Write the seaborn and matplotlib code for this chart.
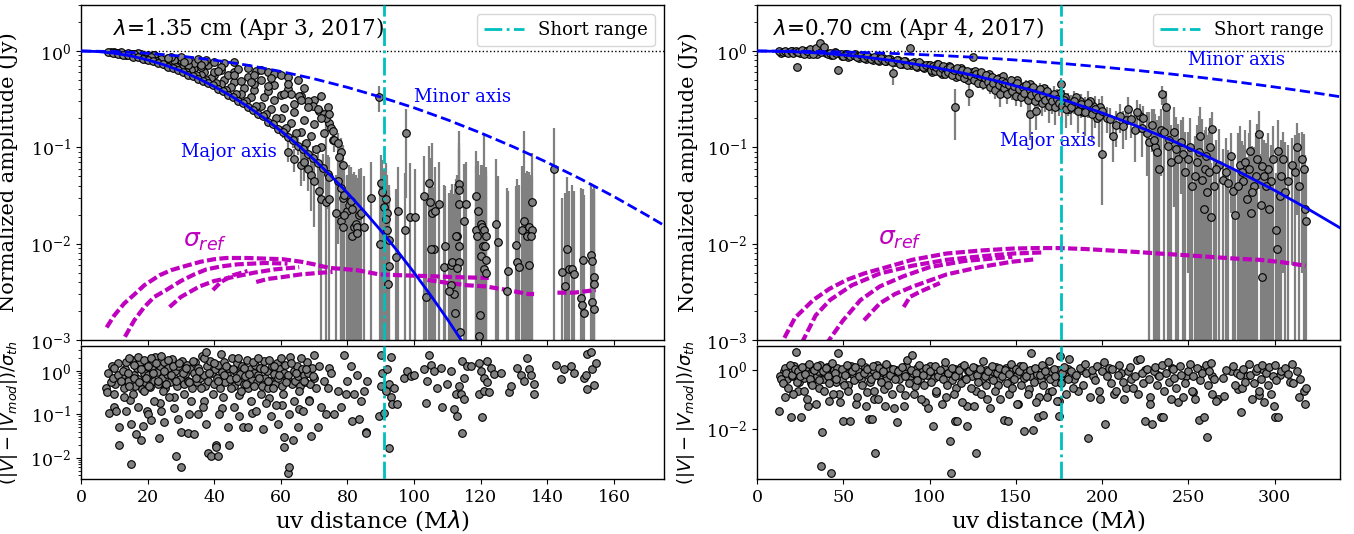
import numpy as np
import matplotlib
matplotlib.use("Agg")
import matplotlib.pyplot as plt
import seaborn as sns

# ============================================================================
# DATA
# ============================================================================
# --- lambda = 1.35 cm, amplitude vs uv distance, low-uv tracks ---
left_uv_t1 = [8, 9.5, 11, 12.5, 14, 15.5, 17, 18.5, 20, 21.5,
              23, 24.5, 26, 27.5, 29, 30.5, 32, 33.5, 35, 36.5,
              38, 39.5, 41, 42.5, 44, 45.5, 47, 48.5, 50, 51.5,
              53, 54.5, 56, 57.5, 59, 60.5, 62, 63.5, 65, 66.5,
              68, 69.5, 71, 72.5, 74, 62, 64, 66, 67, 68,
              69, 70, 71.5, 72, 73.5]
left_amp_t1 = [0.97, 0.95, 0.94, 0.91, 0.9, 0.87, 0.86, 0.83, 0.8, 0.79,
               0.75, 0.73, 0.69, 0.67, 0.63, 0.61, 0.57, 0.55, 0.51, 0.49,
               0.46, 0.44, 0.4, 0.385, 0.35, 0.335, 0.3, 0.29, 0.26, 0.245,
               0.22, 0.21, 0.185, 0.175, 0.155, 0.145, 0.128, 0.118, 0.104, 0.096,
               0.085, 0.078, 0.068, 0.061, 0.053, 0.09, 0.075, 0.065, 0.07, 0.06,
               0.052, 0.045, 0.035, 0.029, 0.027]
left_err_t1 = [0.01, 0.01, 0.01, 0.01, 0.01, 0.01, 0.01, 0.01, 0.01, 0.01,
               0.01, 0.01, 0.01, 0.01, 0.01, 0.01, 0.01, 0.01, 0.01, 0.01,
               0.01, 0.012, 0.012, 0.012, 0.012, 0.012, 0.012, 0.012, 0.015, 0.015,
               0.015, 0.015, 0.015, 0.015, 0.015, 0.02, 0.02, 0.02, 0.02, 0.02,
               0.02, 0.025, 0.025, 0.025, 0.03, 0.02, 0.02, 0.025, 0.025, 0.025,
               0.03, 0.03, 0.03, 0.03, 0.17]
left_uv_t2 = [10, 13, 16, 19, 22, 25, 28, 31, 34, 37, 40, 43, 46, 49, 52, 55, 58, 61, 64, 67, 70, 73]
left_amp_t2 = [0.97, 0.94, 0.92, 0.87, 0.85, 0.79, 0.76, 0.7, 0.67, 0.6, 0.57, 0.5, 0.48, 0.41,
               0.39, 0.33, 0.31, 0.255, 0.235, 0.19, 0.175, 0.14]
left_uv_t3 = [14, 18, 22, 26, 30, 34, 38, 42, 46, 50, 54, 58, 62, 66, 70, 74]
left_amp_t3 = [0.96, 0.92, 0.9, 0.84, 0.81, 0.75, 0.72, 0.64, 0.61, 0.54, 0.5, 0.44, 0.4, 0.34, 0.31, 0.26]
left_uv_t4 = [30, 35, 37.6, 40, 43, 46, 50, 52.5, 54, 56, 58, 60, 62, 65, 63, 65.5, 68, 69.5,
              71.5, 73, 74.5, 75.5, 75, 73.5]
left_amp_t4 = [0.87, 0.83, 0.81, 0.77, 0.75, 0.77, 0.67, 0.62, 0.63, 0.6, 0.58, 0.56, 0.54, 0.5,
               0.36, 0.34, 0.3, 0.27, 0.24, 0.22, 0.18, 0.12, 0.16, 0.2]
left_uv_t5 = [9, 12, 15, 18, 21, 24, 27, 30, 33, 36, 39, 42, 45, 48, 51, 54, 57, 60, 63, 66, 69, 72]
left_amp_t5 = [0.98, 0.93, 0.92, 0.86, 0.83, 0.77, 0.74, 0.66, 0.63, 0.56, 0.52, 0.45, 0.42, 0.36,
               0.33, 0.27, 0.25, 0.2, 0.18, 0.145, 0.13, 0.1]
left_uv_t6 = [11, 15, 20, 24, 28, 32, 36, 40, 44, 48, 52, 56, 60, 64, 68, 72]
left_amp_t6 = [0.95, 0.94, 0.9, 0.83, 0.8, 0.72, 0.69, 0.61, 0.57, 0.49, 0.45, 0.38, 0.35, 0.28, 0.26, 0.2]
left_uv_t7 = [12, 17, 22, 27, 32, 37, 42, 47, 52, 57, 62, 67, 72]
left_amp_t7 = [0.97, 0.95, 0.9, 0.87, 0.8, 0.77, 0.69, 0.65, 0.57, 0.53, 0.45, 0.41, 0.34]
left_uv_t8 = [10.5, 13.5, 16.5, 19.5, 22.5, 25.5, 28.5, 31.5, 34.5, 37.5, 40.5, 43.5, 46.5, 49.5,
              52.5, 55.5, 58.5, 61.5, 64.5, 67.5, 70.5]
left_amp_t8 = [0.95, 0.91, 0.89, 0.82, 0.79, 0.72, 0.69, 0.61, 0.57, 0.5, 0.46, 0.39, 0.36, 0.3,
               0.27, 0.22, 0.2, 0.16, 0.14, 0.11, 0.095]
left_uv_t9 = [16, 21, 26, 31, 36, 41, 46, 51, 56, 61, 66, 71]
left_amp_t9 = [0.94, 0.87, 0.84, 0.76, 0.71, 0.62, 0.57, 0.48, 0.43, 0.36, 0.31, 0.25]

# --- lambda = 1.35 cm, long baselines (noisy) ---
left_uv_far = [74.5, 75.5, 76, 77, 78, 77.5, 78.5, 74.5, 77, 78,
               78.5, 79, 80, 80.5, 81, 81.5, 78, 78.5, 79, 82,
               82.5, 83, 83.5, 84, 85, 81.5, 83, 87, 74.5, 76.5,
               89.5, 97.6, 90, 90.5, 91, 91.5, 92, 91.5, 92, 92.5,
               92.5, 92.3, 89.8, 94.5, 95.2, 97.3, 98.8, 100.3, 103, 104.4,
               104.9, 105.5, 106.4, 106, 105, 103.5, 107.4, 109.4, 108.9, 111,
               111.5, 111, 112, 110.5, 112.4, 113.4, 113.4, 113.6, 113, 112.5,
               113.4, 113.4, 112.8, 113.9, 115, 115.6, 118.6, 119.2, 118.7, 119,
               120, 120.5, 121, 121.5, 120.6, 121.2, 120, 121.5, 121, 121.5,
               119.7, 119.5, 124.5, 125.3, 128.3, 127.8, 130.6, 131, 131.5, 133,
               133.5, 134, 134.5, 132.5, 134.5, 135.3, 135, 135.3, 142, 144.5,
               145.3, 145.8, 146.5, 147.5, 148, 150.6, 151, 150, 150.3, 153,
               153.5, 154, 154, 153.5, 154]
left_amp_far = [0.22, 0.148, 0.12, 0.11, 0.09, 0.08, 0.066, 0.049, 0.045, 0.038,
                0.03, 0.032, 0.022, 0.025, 0.028, 0.023, 0.017, 0.015, 0.02, 0.015,
                0.016, 0.015, 0.02, 0.021, 0.015, 0.012, 0.013, 0.03, 0.029, 0.021,
                0.33, 0.14, 0.043, 0.034, 0.024, 0.029, 0.021, 0.018, 0.014, 0.011,
                0.0058, 0.0038, 0.0099, 0.0072, 0.022, 0.014, 0.019, 0.019, 0.031, 0.043,
                0.027, 0.021, 0.022, 0.0089, 0.0087, 0.0028, 0.026, 0.0094, 0.0057, 0.006,
                0.0065, 0.0037, 0.003, 0.0032, 0.0019, 0.042, 0.036, 0.026, 0.012, 0.012,
                0.0094, 0.0065, 0.0056, 0.0012, 0.017, 0.026, 0.031, 0.022, 0.014, 0.012,
                0.016, 0.015, 0.014, 0.012, 0.0095, 0.0095, 0.0075, 0.0068, 0.0055, 0.005,
                0.0018, 0.0011, 0.016, 0.0105, 0.0052, 0.0032, 0.0098, 0.0065, 0.0057, 0.017,
                0.014, 0.012, 0.006, 0.014, 0.015, 0.014, 0.012, 0.027, 0.06, 0.0051,
                0.0036, 0.0087, 0.0055, 0.0055, 0.0048, 0.0068, 0.0019, 0.0027, 0.0023, 0.0076,
                0.0066, 0.0045, 0.0038, 0.0025, 0.0021]
left_err_far = [0.03, 0.03, 0.03, 0.03, 0.035, 0.04, 0.04, 0.03, 0.035, 0.04,
                0.04, 0.035, 0.03, 0.04, 0.035, 0.03, 0.03, 0.035, 0.03, 0.04,
                0.035, 0.03, 0.04, 0.04, 0.035, 0.03, 0.035, 0.04, 0.03, 0.03,
                0.1, 0.11, 0.04, 0.04, 0.035, 0.04, 0.03, 0.035, 0.03, 0.03,
                0.03, 0.02, 0.03, 0.03, 0.04, 0.04, 0.05, 0.04, 0.05, 0.06,
                0.05, 0.09, 0.04, 0.03, 0.035, 0.03, 0.045, 0.03, 0.035, 0.03,
                0.035, 0.03, 0.03, 0.03, 0.04, 0.07, 0.06, 0.12, 0.04, 0.035,
                0.03, 0.04, 0.03, 0.03, 0.05, 0.045, 0.06, 0.05, 0.05, 0.04,
                0.05, 0.05, 0.12, 0.05, 0.04, 0.045, 0.04, 0.05, 0.04, 0.045,
                0.05, 0.04, 0.06, 0.04, 0.03, 0.035, 0.03, 0.04, 0.035, 0.13,
                0.04, 0.045, 0.04, 0.05, 0.04, 0.035, 0.04, 0.06, 0.1, 0.025,
                0.03, 0.04, 0.03, 0.035, 0.03, 0.03, 0.03, 0.035, 0.03, 0.035,
                0.03, 0.035, 0.03, 0.03, 0.035]

# --- lambda = 1.35 cm, Gaussian model along major / minor axis ---
left_model_uv = [0, 5, 10, 15, 20, 25, 30, 35, 40, 45, 50, 55, 60, 65, 70, 75, 80, 85, 90,
                 95, 100, 105, 110, 115]
left_major = [1.0, 0.987, 0.948, 0.888, 0.809, 0.718, 0.621, 0.522, 0.428, 0.342, 0.266, 0.201,
              0.148, 0.1066, 0.0744, 0.0507, 0.0336, 0.0217, 0.0137, 0.00837, 0.005, 0.0029,
              0.00164, 0.0009]
left_minor_uv = [0, 10, 20, 30, 40, 50, 60, 70, 80, 90, 100, 110, 120, 130, 140, 150, 160, 170, 175]
left_minor = [1.0, 0.9865, 0.947, 0.885, 0.804, 0.712, 0.613, 0.514, 0.419, 0.332, 0.257, 0.193,
              0.141, 0.1004, 0.0696, 0.0469, 0.0308, 0.0196, 0.0155]

# --- lambda = 1.35 cm, sigma_ref tracks ---
left_sig_uv = [
    [7.7, 10, 13, 15.7, 19, 23.6, 27, 31.6, 36, 40, 43.6, 50, 55, 60.5, 66, 70, 74.5,
     77.5, 83, 89.5, 96, 104.4, 112, 122.4],
    [104, 110.4, 116, 121.4, 128, 134.3, 136],
    [143, 148, 154.5],
    [13.2, 16, 19, 22, 25.6, 30, 34, 37.6, 42, 47, 55.5, 62],
    [26.6, 30, 35.6, 40, 45.6, 52, 58, 65.5],
    [39.6, 42, 45.6, 50],
    [52.6, 56, 60.5, 66, 75.5],
]
left_sig_amp = [
    [1.35e-3, 1.8e-3, 2.4e-3, 2.9e-3, 3.7e-3, 4.7e-3, 5.3e-3, 5.9e-3, 6.5e-3, 6.9e-3, 7.1e-3,
     7.1e-3, 7.0e-3, 6.9e-3, 6.5e-3, 6.1e-3, 5.6e-3, 5.5e-3, 5.3e-3, 4.8e-3, 4.7e-3, 4.6e-3,
     4.5e-3, 4.4e-3],
    [4.2e-3, 3.9e-3, 3.7e-3, 3.6e-3, 3.3e-3, 3.0e-3, 3.0e-3],
    [3.1e-3, 3.1e-3, 3.3e-3],
    [1.08e-3, 1.6e-3, 2.2e-3, 2.8e-3, 3.3e-3, 4.1e-3, 4.8e-3, 5.4e-3, 5.8e-3, 6.1e-3, 6.3e-3, 6.2e-3],
    [2.2e-3, 2.8e-3, 3.6e-3, 4.1e-3, 4.5e-3, 5.0e-3, 5.4e-3, 5.7e-3],
    [3.3e-3, 4.0e-3, 4.7e-3, 5.2e-3],
    [4.0e-3, 4.3e-3, 4.5e-3, 4.8e-3, 5.1e-3],
]

# --- lambda = 1.35 cm, residuals ---
left_res_uv = [7.5, 7.8, 8.5, 9, 9.5, 10, 10, 10.5, 11, 11.5,
               11.5, 12, 12.5, 13, 13.5, 13.5, 14, 14.5, 14.5, 15,
               15, 15.5, 16, 16, 16.5, 17, 17, 17.5, 18, 18,
               18.5, 19, 19, 19.5, 20, 20, 20.5, 21, 21, 21.5,
               22, 22.5, 23, 23.5, 24, 24, 24.5, 25, 25, 25.5,
               26, 26.5, 27, 27.5, 28, 28.5, 28.5, 29, 29.5, 30,
               30, 30.5, 31, 31.5, 32, 32.5, 33, 33.5, 34, 34.5,
               35, 35.5, 36, 36.5, 37, 37.5, 37.5, 38, 38.5, 39,
               39.5, 40, 40.5, 40.5, 41, 41, 41.5, 42, 42.5, 43,
               43.5, 44, 44.5, 45, 45.5, 46, 46.5, 47, 47.5, 48,
               48.5, 49, 49.5, 50, 50.5, 51, 51.5, 52, 52.5, 53,
               53.5, 54, 54.5, 55, 55.5, 56, 56.5, 57, 57.5, 58,
               58.5, 59, 59.5, 60, 60.5, 61, 61, 61.5, 62, 62.5,
               62.5, 63, 63.5, 64, 64.5, 65, 65.5, 66, 66.5, 67,
               67.5, 68.5, 69, 69.5, 70, 70.5, 71, 71.5, 72, 73,
               73.5, 74, 74.5, 75, 76, 77, 78, 79, 79.5, 80,
               81, 81.5, 82, 83, 83.5, 84, 85, 85.5, 85.5, 86,
               89.5, 90, 90, 90.5, 91, 91.5, 92, 92.5, 92.5, 93,
               93, 93.5, 94, 95, 97, 98, 99, 100, 103, 103.5,
               104, 104.5, 105, 106, 107, 108, 108.5, 110, 111, 112,
               112.5, 113, 113.5, 114, 114.5, 114.5, 115, 115, 116, 117,
               119.5, 119.5, 120, 120.5, 121, 121, 122, 122, 122.5, 123,
               124, 126, 128.5, 129, 131, 132, 133, 134, 134.5, 135,
               136, 136, 142.5, 144, 145, 147, 148, 151, 151.5, 152,
               152, 153, 153.5, 154, 154.5]
left_res = [0.4, 0.33, 0.11, 0.55, 0.7, 1.2, 0.3, 0.12, 0.8, 0.02,
            0.05, 0.6, 1.0, 0.25, 1.6, 0.12, 0.9, 2.0, 0.45, 0.007,
            0.06, 0.3, 1.4, 0.7, 0.035, 0.15, 2.1, 0.55, 0.025, 1.1,
            0.055, 0.35, 1.8, 0.7, 0.1, 1.3, 0.45, 0.075, 2.0, 0.9,
            0.2, 1.5, 0.6, 0.028, 2.2, 0.12, 0.35, 1.0, 0.065, 0.5,
            1.8, 0.25, 0.8, 1.3, 0.14, 0.011, 0.6, 0.08, 1.5, 0.006,
            0.04, 0.9, 0.3, 1.2, 0.037, 0.55, 0.2, 1.7, 0.035, 0.7,
            0.1, 1.0, 0.4, 0.15, 2.0, 2.7, 0.06, 0.013, 0.9, 0.011,
            0.3, 1.5, 0.02, 0.018, 0.011, 0.6, 0.1, 2.5, 0.25, 0.8,
            1.3, 0.05, 0.02, 0.4, 1.1, 0.15, 0.7, 2.0, 0.09, 0.35,
            0.05, 1.2, 0.5, 0.05, 0.85, 0.2, 1.6, 0.45, 0.12, 2.0,
            0.7, 0.3, 0.045, 1.1, 0.18, 0.6, 1.8, 0.09, 0.4, 1.3,
            0.16, 0.06, 0.8, 2.0, 0.3, 0.018, 0.03, 0.55, 0.0045, 0.006,
            0.1, 1.5, 0.025, 0.2, 0.9, 0.05, 0.35, 2.0, 0.12, 0.6,
            1.1, 0.2, 0.032, 0.75, 2.4, 0.4, 0.05, 1.3, 0.15, 0.6,
            0.1, 0.4, 1.2, 0.9, 0.1, 0.35, 0.15, 2.3, 0.3, 0.6,
            1.3, 0.07, 0.3, 0.8, 0.08, 0.2, 0.35, 0.04, 0.038, 0.6,
            0.09, 2.4, 0.45, 0.9, 0.11, 0.35, 1.1, 0.017, 0.5, 2.1,
            0.25, 0.17, 0.4, 0.17, 0.7, 1.0, 0.75, 0.8, 1.1, 0.18,
            0.6, 2.3, 1.4, 1.0, 0.4, 1.2, 0.15, 0.5, 1.0, 0.13,
            0.3, 0.09, 0.45, 0.3, 0.037, 1.7, 0.23, 0.7, 1.3, 1.3,
            0.3, 1.5, 1.0, 0.085, 0.7, 0.35, 1.7, 0.55, 0.33, 1.2,
            0.85, 0.9, 0.32, 0.45, 1.2, 0.8, 0.6, 2.0, 1.1, 0.8,
            0.5, 0.29, 1.4, 0.65, 1.1, 1.3, 0.9, 0.7, 0.8, 0.38,
            2.5, 2.8, 1.1, 0.47, 1.5]
left_res_uv2 = [8.2, 9.2, 10.2, 11.2, 12.2, 12.8, 13.2, 14.2, 15.2, 15.8,
                16.2, 16.8, 17.2, 17.8, 18.2, 18.8, 19.2, 19.8, 20.2, 20.8,
                21.2, 21.8, 22.2, 22.8, 23.2, 23.8, 24.2, 24.8, 25.2, 25.8,
                26.2, 26.8, 27.2, 27.8, 28.2, 28.8, 29.2, 29.8, 30.2, 30.8,
                31.2, 31.8, 32.2, 32.8, 33.2, 33.8, 34.2, 34.8, 35.2, 35.8,
                36.2, 36.8, 37.2, 37.8, 38.2, 38.8, 39.2, 39.8, 40.2, 40.8,
                41.2, 41.8, 42.2, 42.8, 43.2, 43.8, 44.2, 44.8, 45.2, 45.8,
                46.2, 46.8, 47.2, 47.8, 48.2, 48.8, 49.2, 49.8, 50.2, 50.8,
                51.2, 51.8, 52.2, 52.8, 53.2, 53.8, 54.2, 54.8, 55.2, 55.8,
                56.2, 56.8, 57.2, 57.8, 58.2, 58.8, 59.2, 59.8, 60.2, 60.8,
                61.2, 61.8, 62.2, 62.8, 63.2, 63.8, 64.2, 64.8, 65.2, 65.8,
                66.2, 66.8, 67.2, 67.8, 68.2, 68.8, 69.2, 69.8]
left_res2 = [0.9, 1.3, 0.5, 1.5, 0.75, 0.4, 1.1, 0.6, 1.8, 0.8,
             0.45, 1.2, 0.65, 1.6, 0.38, 0.9, 0.55, 1.4, 0.8, 0.42,
             1.1, 0.6, 2.1, 0.95, 0.5, 1.3, 0.7, 1.6, 0.4, 0.85,
             1.2, 0.55, 1.9, 0.7, 1.0, 0.45, 1.3, 0.65, 1.7, 0.5,
             0.85, 1.4, 0.6, 1.1, 0.4, 0.9, 1.6, 0.55, 1.2, 0.7,
             2.2, 0.8, 0.45, 1.3, 0.6, 1.7, 0.9, 0.5, 1.1, 0.7,
             1.4, 0.4, 0.95, 1.6, 0.55, 0.8, 1.2, 0.65, 2.0, 0.45,
             1.0, 1.5, 0.6, 0.85, 1.3, 0.5, 0.75, 1.8, 0.4, 1.1,
             0.65, 0.9, 1.4, 0.55, 0.8, 1.2, 0.45, 1.7, 0.7, 1.0,
             0.4, 0.6, 1.3, 0.85, 0.5, 1.5, 0.7, 1.1, 0.45, 0.9,
             1.4, 0.65, 0.8, 2.1, 0.5, 1.0, 0.6, 1.3, 0.75, 0.45,
             1.1, 0.8, 0.55, 1.6, 0.9, 0.5, 1.2, 0.7]
left_res_uv3 = [9.8, 14.8, 19.8, 23.8, 27.8, 32.3, 36.8, 42.3, 47.3, 51.3, 56.3, 60.3, 65.3, 68.3]
left_res3 = [0.15, 0.22, 0.12, 0.18, 0.25, 0.1, 0.2, 0.14, 0.28, 0.11, 0.24, 0.16, 0.13, 0.22]

# --- lambda = 0.70 cm, amplitude vs uv distance ---
right_uv_a = [13, 15, 16.5, 18, 19.5, 21, 22.5, 23.3, 24, 26,
              27.5, 29, 31, 32.5, 34, 36.5, 37, 39, 41, 42.5,
              44, 46, 47, 48.5, 50, 52, 54, 56, 58, 60,
              62, 64, 66, 68, 70, 72, 74, 76, 78, 79,
              81, 83, 85, 87, 88.6, 90, 92, 94, 96, 98]
right_amp_a = [0.99, 0.97, 1.0, 0.96, 0.99, 0.95, 1.01, 0.69, 0.97, 1.02,
               0.94, 0.99, 1.05, 0.93, 1.08, 1.2, 0.97, 1.1, 0.92, 0.96,
               0.9, 0.95, 0.64, 0.93, 0.89, 0.92, 0.88, 0.91, 0.86, 0.9,
               0.84, 0.88, 0.83, 0.87, 0.81, 0.85, 0.79, 0.83, 0.77, 0.59,
               0.8, 0.74, 0.79, 0.72, 1.07, 0.75, 0.7, 0.76, 0.68, 0.72]
right_err_a = [0.02, 0.02, 0.02, 0.02, 0.03, 0.02, 0.03, 0.05, 0.03, 0.03,
               0.03, 0.03, 0.04, 0.03, 0.04, 0.05, 0.03, 0.04, 0.03, 0.03,
               0.03, 0.03, 0.06, 0.03, 0.03, 0.03, 0.03, 0.04, 0.03, 0.04,
               0.03, 0.04, 0.03, 0.04, 0.04, 0.04, 0.04, 0.04, 0.04, 0.15,
               0.04, 0.04, 0.05, 0.04, 0.08, 0.04, 0.05, 0.04, 0.05, 0.05]
right_uv_a2 = [14, 17, 20, 25, 28, 30, 33, 35, 38, 40,
               43, 45, 49, 51, 53, 55, 57, 59, 61, 63,
               65, 67, 69, 71, 73, 75, 77, 80, 82, 84,
               86, 89, 91, 93, 95, 97, 99]
right_amp_a2 = [0.96, 0.98, 1.0, 0.95, 1.0, 0.94, 0.98, 0.93, 0.99, 0.95,
                0.9, 0.97, 0.88, 0.94, 0.86, 0.9, 0.92, 0.85, 0.89, 0.82,
                0.87, 0.8, 0.86, 0.79, 0.84, 0.78, 0.82, 0.76, 0.8, 0.73,
                0.78, 0.71, 0.76, 0.69, 0.74, 0.67, 0.71]
right_uv_b = [100, 101, 102, 103, 104, 105, 106, 107, 108, 109,
              110, 111, 112, 113, 114, 114.7, 116, 117, 118, 119,
              120, 121, 122, 123, 124, 125, 126, 127, 128, 129,
              130, 131, 132, 133, 134, 135, 136, 137, 138, 139,
              140, 141, 142, 143, 144, 145, 146, 147, 148, 149,
              150, 151, 152, 153, 154, 155, 156, 157, 158, 159,
              160, 161, 162, 163, 164, 165, 166, 167, 168, 169,
              170, 171, 172, 173, 174, 175, 176, 177, 178, 179,
              180, 182, 184, 186, 188, 190, 192, 194, 196, 198,
              200, 200, 158, 162]
right_amp_b = [0.72, 0.64, 0.7, 0.62, 0.68, 0.73, 0.6, 0.66, 0.7, 0.58,
               0.65, 0.61, 0.69, 0.56, 0.63, 0.26, 0.66, 0.55, 0.6, 0.64,
               0.52, 0.58, 0.62, 0.37, 0.55, 0.86, 0.5, 0.58, 0.47, 0.55,
               0.6, 0.45, 0.52, 0.57, 0.48, 0.42, 0.54, 0.46, 0.39, 0.51,
               0.44, 0.36, 0.49, 0.41, 0.47, 0.36, 0.44, 0.5, 0.38, 0.43,
               0.34, 0.46, 0.4, 0.33, 0.42, 0.37, 0.44, 0.31, 0.39, 0.35,
               0.42, 0.3, 0.37, 0.33, 0.4, 0.29, 0.35, 0.31, 0.38, 0.27,
               0.33, 0.3, 0.36, 0.26, 0.32, 0.29, 0.45, 0.27, 0.31, 0.25,
               0.29, 0.26, 0.3, 0.24, 0.28, 0.23, 0.29, 0.22, 0.25, 0.21,
               0.24, 0.085, 0.22, 0.24]
right_err_b = [0.04, 0.04, 0.05, 0.04, 0.05, 0.04, 0.05, 0.04, 0.05, 0.05,
               0.04, 0.05, 0.05, 0.05, 0.04, 0.14, 0.05, 0.05, 0.04, 0.05,
               0.05, 0.05, 0.04, 0.1, 0.05, 0.05, 0.05, 0.05, 0.06, 0.05,
               0.05, 0.06, 0.05, 0.05, 0.06, 0.06, 0.05, 0.06, 0.07, 0.05,
               0.06, 0.1, 0.05, 0.06, 0.05, 0.08, 0.06, 0.05, 0.07, 0.06,
               0.07, 0.06, 0.06, 0.07, 0.06, 0.07, 0.06, 0.08, 0.06, 0.07,
               0.06, 0.07, 0.07, 0.08, 0.06, 0.08, 0.07, 0.08, 0.06, 0.09,
               0.07, 0.08, 0.07, 0.09, 0.08, 0.08, 0.07, 0.09, 0.08, 0.09,
               0.08, 0.09, 0.08, 0.1, 0.08, 0.1, 0.09, 0.1, 0.09, 0.11,
               0.1, 0.06, 0.1, 0.09]
right_uv_b2 = [100.5, 103.5, 106.5, 110.5, 113.5, 117.5, 120.5, 124.5, 128.5, 132.5,
               136.5, 140.5, 144.5, 148.5, 152.5, 156.5, 160.5, 164.5, 168.5, 172.5,
               174.5, 178.5, 183, 187, 191, 195, 199]
right_amp_b2 = [0.66, 0.7, 0.63, 0.68, 0.6, 0.62, 0.57, 0.6, 0.53, 0.5,
                0.48, 0.52, 0.42, 0.46, 0.38, 0.41, 0.36, 0.34, 0.32, 0.3,
                0.35, 0.33, 0.27, 0.3, 0.25, 0.27, 0.26]
right_uv_b3 = [101.5, 104.5, 107.5, 111.5, 115.5, 118.5, 122.5, 126.5, 130.5, 134.5,
               138.5, 142.5, 146.5, 150.5, 154.5, 158.5, 162.5, 166.5, 170.5, 175.5,
               181, 185, 189, 193, 197]
right_amp_b3 = [0.6, 0.74, 0.58, 0.7, 0.54, 0.66, 0.5, 0.62, 0.47, 0.58,
                0.43, 0.55, 0.4, 0.5, 0.36, 0.45, 0.33, 0.41, 0.3, 0.37,
                0.25, 0.33, 0.23, 0.3, 0.2]
right_uv_c = [204.4, 206.3, 210.2, 212, 215, 217, 220, 223, 224, 227,
              230, 232, 233, 235, 237, 236, 238, 240, 242, 244,
              246, 248, 250, 252, 255, 257, 258, 259, 260, 261,
              262, 263, 264, 266, 270, 273, 275, 277, 279, 281,
              283, 284, 286, 286.5, 287, 289, 291, 292, 292.5, 293,
              295, 297, 299, 301, 301.5, 302, 303, 305, 306, 310,
              313, 314, 316, 317, 317.5, 318]
right_amp_c = [0.195, 0.13, 0.21, 0.166, 0.25, 0.195, 0.23, 0.16, 0.2, 0.113,
               0.12, 0.09, 0.059, 0.355, 0.26, 0.144, 0.103, 0.07, 0.144, 0.075,
               0.113, 0.055, 0.075, 0.04, 0.07, 0.13, 0.046, 0.023, 0.081, 0.034,
               0.055, 0.019, 0.155, 0.059, 0.046, 0.043, 0.081, 0.02, 0.04, 0.055,
               0.07, 0.029, 0.091, 0.021, 0.034, 0.05, 0.137, 0.025, 0.0045, 0.064,
               0.04, 0.023, 0.075, 0.014, 0.0087, 0.091, 0.031, 0.075, 0.034, 0.066,
               0.1, 0.04, 0.075, 0.059, 0.023, 0.017]
right_err_c = [0.06, 0.06, 0.07, 0.07, 0.08, 0.07, 0.08, 0.08, 0.07, 0.12,
               0.13, 0.1, 0.15, 0.08, 0.12, 0.2, 0.15, 0.1, 0.12, 0.1,
               0.08, 0.09, 0.07, 0.06, 0.1, 0.13, 0.15, 0.05, 0.08, 0.1,
               0.09, 0.05, 0.08, 0.06, 0.05, 0.05, 0.06, 0.04, 0.1, 0.06,
               0.08, 0.05, 0.1, 0.06, 0.07, 0.09, 0.1, 0.06, 0.02, 0.08,
               0.07, 0.05, 0.09, 0.04, 0.03, 0.1, 0.06, 0.07, 0.08, 0.06,
               0.08, 0.1, 0.07, 0.08, 0.06, 0.04]
right_uv_c2 = [203, 208, 214, 219, 222, 226, 229, 231, 234, 239,
               243, 247, 251, 254, 256, 259.5, 262.5, 265, 268, 272,
               276, 280, 282, 285, 288, 290, 294, 296, 298, 304,
               308, 312]
right_amp_c2 = [0.2, 0.17, 0.19, 0.15, 0.21, 0.14, 0.17, 0.1, 0.15, 0.12,
                0.095, 0.085, 0.1, 0.05, 0.09, 0.06, 0.1, 0.04, 0.065, 0.055,
                0.035, 0.065, 0.045, 0.06, 0.04, 0.075, 0.05, 0.06, 0.045, 0.05,
                0.045, 0.055]
right_err_c2 = [0.06, 0.07, 0.07, 0.08, 0.07, 0.09, 0.08, 0.12, 0.1, 0.15,
                0.11, 0.12, 0.1, 0.08, 0.12, 0.09, 0.1, 0.06, 0.09, 0.07,
                0.05, 0.1, 0.06, 0.08, 0.06, 0.1, 0.07, 0.08, 0.06, 0.07,
                0.06, 0.08]

# --- lambda = 0.70 cm, model curves ---
right_model_uv = [0, 20, 40, 60, 80, 100, 120, 140, 160, 180, 200, 220, 240, 260, 280, 300, 320, 340]
right_major = [1.0, 0.985, 0.9425, 0.875, 0.789, 0.691, 0.587, 0.484, 0.388, 0.3016, 0.2276,
               0.1668, 0.1187, 0.082, 0.055, 0.0358, 0.0226, 0.0139]
right_minor = [1.0, 0.996, 0.985, 0.966, 0.9407, 0.909, 0.8714, 0.829, 0.783, 0.734, 0.682,
               0.6296, 0.5766, 0.524, 0.4726, 0.423, 0.3757, 0.331]

# --- lambda = 0.70 cm, sigma_ref tracks ---
right_sig_uv = [
    [13, 15.2, 22, 32.6, 42, 51.9, 62, 75.1, 90, 109.8, 130, 148.4, 162, 175.5, 190, 204.4,
     220, 233, 248, 262.3, 277, 291, 305, 318],
    [24, 26.8, 34, 42.3, 55, 71.2, 90, 109.8, 130, 148.4, 165],
    [40, 49.9, 60, 71.2, 85, 100, 120, 148],
    [62, 71.2, 80, 90.5, 110, 129, 148, 162],
    [85, 88.6, 95, 106],
]
right_sig_amp = [
    [8e-4, 1.0e-3, 1.7e-3, 2.6e-3, 3.4e-3, 4.2e-3, 4.9e-3, 5.7e-3, 6.8e-3, 7.9e-3, 8.5e-3,
     8.9e-3, 9.0e-3, 9.0e-3, 8.8e-3, 8.5e-3, 8.2e-3, 7.9e-3, 7.6e-3, 7.3e-3, 7.0e-3, 6.8e-3,
     6.4e-3, 5.9e-3],
    [7e-4, 1.0e-3, 1.8e-3, 2.6e-3, 3.7e-3, 4.9e-3, 5.9e-3, 6.8e-3, 7.4e-3, 7.9e-3, 8.1e-3],
    [9e-4, 1.6e-3, 2.6e-3, 3.6e-3, 4.6e-3, 5.7e-3, 6.6e-3, 7.3e-3],
    [1.6e-3, 2.4e-3, 3.0e-3, 3.6e-3, 4.8e-3, 5.7e-3, 6.5e-3, 6.9e-3],
    [2.2e-3, 2.8e-3, 3.2e-3, 3.9e-3],
]

# --- lambda = 0.70 cm, residuals ---
right_res_uv = [13, 13.5, 14, 15, 16, 17, 18, 19, 19.5, 20,
                21, 22, 22.5, 23, 24, 25, 25.5, 26, 27, 28,
                29, 30, 31, 32, 33, 34, 35, 36, 37, 37.5,
                38, 39, 40, 41, 42, 43, 43.5, 44, 45, 46,
                47, 48, 49, 50, 50.5, 51, 52, 53, 54, 55,
                56, 57, 58, 59, 60, 61, 62, 63, 64, 65,
                66, 66.5, 67, 68, 68.5, 69, 70, 71, 72, 73,
                74, 75, 76, 77, 78, 79, 80, 81, 82, 83,
                84, 85, 86, 87, 88, 89, 90, 91, 92, 93,
                94, 95, 96, 97, 98, 99, 100, 101, 102, 103,
                104, 105, 106, 107, 108, 109, 110, 111, 112, 112.5,
                113, 114, 114.5, 115, 116, 117, 118, 119, 120, 121,
                122, 123, 124, 125, 126, 127, 127.5, 128, 129, 130,
                131, 132, 133, 134, 135, 136, 137, 138, 139, 140,
                141, 142, 143, 144, 145, 145.5, 146, 147, 148, 149,
                150, 151, 152, 153, 154, 155, 156, 157, 158, 159,
                160, 160.5, 161, 162, 163, 164, 165, 165.5, 166, 167,
                168, 169, 170, 171, 172, 173, 174, 175, 175.5, 176,
                177, 178, 179, 180, 181, 182, 183, 185, 187, 189,
                190, 191, 192, 193, 194, 196, 197, 198, 200, 201,
                202, 203, 205, 206, 208, 209, 210, 212, 213, 215,
                216, 218, 219, 220, 221, 222, 223, 224, 225, 226,
                227, 228, 229, 230, 231, 232, 233, 234, 235, 235.5,
                236, 237, 238, 239, 240, 241, 242, 243, 245, 246,
                247, 248, 250, 251, 252, 253, 254, 255, 256, 257,
                258, 259, 260, 261, 261.5, 262, 263, 264, 265, 266,
                270, 271, 272, 276, 277, 278, 280, 280.5, 281, 282,
                283, 285, 286, 287, 288, 289, 290, 291, 292, 293,
                294, 295, 296, 297, 298, 299, 300, 300.5, 301, 302,
                304, 306, 308, 310, 311, 313, 315, 317, 317.5, 318]
right_res = [0.04, 0.6, 0.5, 0.35, 1.2, 0.8, 0.25, 1.5, 0.025, 0.7,
             0.15, 1.1, 4.2, 0.4, 0.9, 0.6, 0.025, 1.3, 0.2, 0.75,
             0.1, 1.6, 0.5, 0.3, 1.0, 0.07, 1.4, 0.45, 0.00057, 0.0077,
             0.9, 0.2, 1.2, 0.6, 0.35, 0.00033, 1.7, 0.15, 0.8, 0.5,
             3.7, 0.08, 1.1, 0.018, 0.3, 0.7, 1.5, 0.2, 0.019, 0.9,
             0.45, 1.3, 0.12, 0.6, 1.8, 0.3, 0.8, 0.06, 1.1, 0.022,
             0.5, 0.022, 1.4, 0.2, 0.0015, 0.7, 0.1, 1.2, 0.4, 0.9,
             0.06, 1.6, 0.3, 0.7, 0.15, 1.1, 0.5, 0.017, 0.9, 0.25,
             1.3, 0.06, 0.6, 2.2, 0.35, 1.0, 3.1, 0.15, 0.8, 0.45,
             1.5, 0.1, 0.7, 0.3, 1.2, 0.05, 0.9, 0.4, 0.013, 1.4,
             0.2, 0.6, 1.0, 0.07, 0.5, 1.8, 0.3, 0.8, 0.004, 0.00033,
             1.2, 0.15, 0.018, 0.6, 0.018, 1.0, 0.35, 0.08, 1.5, 0.5,
             0.013, 0.9, 0.25, 1.3, 0.06, 0.0015, 0.7, 0.4, 1.1, 0.15,
             2.0, 0.6, 0.3, 0.9, 0.05, 1.4, 0.45, 0.2, 0.8, 1.2,
             0.1, 0.6, 0.02, 1.0, 0.35, 0.018, 0.75, 1.6, 0.25, 0.5,
             1.1, 0.07, 0.9, 0.3, 1.4, 0.0085, 0.6, 0.15, 1.0, 3.9,
             0.0095, 0.4, 1.2, 0.08, 0.025, 0.7, 1.5, 0.03, 0.3, 0.9,
             0.12, 2.0, 0.5, 0.2, 1.1, 0.6, 0.09, 0.028, 3.0, 0.35,
             0.8, 1.3, 0.15, 0.5, 2.3, 0.9, 0.25, 0.7, 1.2, 0.3,
             1.6, 0.8, 0.0049, 0.12, 1.0, 0.45, 1.4, 0.2, 0.9, 1.8,
             0.015, 0.6, 0.35, 1.1, 0.2, 0.7, 1.5, 0.4, 0.1, 0.9,
             1.3, 0.25, 0.6, 2.1, 0.15, 2.4, 0.8, 0.35, 0.018, 1.1,
             0.5, 0.07, 0.015, 0.9, 1.3, 0.3, 0.6, 0.025, 1.5, 0.025,
             0.2, 0.8, 1.9, 0.4, 0.1, 1.1, 0.55, 0.25, 1.4, 0.7,
             0.12, 0.35, 0.9, 1.6, 0.2, 0.6, 0.1, 1.2, 0.02, 0.45,
             0.8, 0.025, 1.5, 0.0052, 0.3, 0.9, 1.7, 0.15, 0.5, 0.09,
             0.55, 0.13, 1.0, 1.4, 0.3, 0.8, 0.65, 0.038, 0.25, 1.1,
             0.4, 1.6, 0.7, 0.1, 0.35, 0.9, 1.2, 0.2, 0.5, 1.5,
             0.08, 0.8, 0.3, 1.3, 0.15, 0.6, 0.025, 1.5, 0.45, 0.025,
             0.9, 1.2, 0.75, 1.6, 0.35, 0.9, 0.5, 0.2, 0.07, 0.25]
right_res_uv2 = [15.5, 17.5, 18.5, 20.5, 21.5, 23.5, 24.5, 26.5, 27.5, 28.5,
                 30.5, 31.5, 32.5, 34.5, 35.5, 36.5, 38.5, 39.5, 40.5, 42.5,
                 44.5, 45.5, 46.5, 48.5, 49.5, 51.5, 53.5, 54.5, 56.5, 58.5,
                 60.5, 62.5, 64.5, 65.5, 67.5, 69.5, 70.5, 72.5, 74.5, 76.5,
                 78.5, 80.5, 82.5, 84.5, 86.5, 88.5, 90.5, 92.5, 94.5, 96.5,
                 98.5, 100.5, 102.5, 104.5, 106.5, 108.5, 110.5, 112.8, 114.8, 116.5,
                 118.5, 120.5, 122.5, 124.5, 126.5, 128.5, 130.5, 132.5, 134.5, 136.5,
                 138.5, 140.5, 142.5, 144.5, 146.5, 148.5, 150.5, 152.5, 154.5, 156.5,
                 158.5, 160.8, 162.5, 164.8, 166.5, 168.8, 170.5, 172.5, 174.5, 176.5,
                 178.5, 180.5, 184, 188, 195, 204, 211, 217, 225, 232.5,
                 240.5, 248.5, 257.5, 263.5, 275, 284, 292.5, 303, 309]
right_res2 = [0.9, 0.5, 1.1, 0.6, 1.4, 0.8, 0.4, 1.0, 0.55, 1.3,
              0.7, 0.35, 1.1, 0.6, 0.9, 1.5, 0.5, 0.8, 1.3, 0.65,
              1.0, 0.4, 1.2, 0.7, 0.45, 1.1, 0.8, 1.4, 0.6, 0.95,
              0.5, 1.3, 0.7, 0.4, 1.0, 1.5, 0.6, 0.85, 0.45, 1.2,
              0.7, 1.0, 0.5, 0.9, 1.4, 0.6, 0.8, 1.2, 0.45, 1.0,
              0.7, 1.4, 0.55, 0.9, 0.6, 1.2, 0.8, 0.45, 1.1, 0.7,
              1.3, 0.5, 0.9, 0.6, 1.2, 0.75, 0.45, 1.0, 0.6, 0.9,
              1.3, 0.5, 0.8, 1.2, 0.4, 1.0, 0.7, 1.4, 0.55, 0.9,
              0.6, 1.1, 0.75, 0.45, 1.2, 0.6, 0.9, 0.4, 1.0, 0.6,
              0.8, 1.1, 0.5, 1.0, 0.6, 1.2, 0.8, 0.5, 1.0, 0.7,
              1.2, 0.6, 1.0, 0.6, 0.9, 0.6, 1.1, 0.7, 0.4]
right_res_uv3 = [16.5, 23.5, 29.5, 36, 41.5, 47.5, 52.5, 57.5, 63.5, 68,
                 73.5, 79.5, 85.5, 91.5, 97.5, 103.5, 109.5, 115.5, 121.5, 127,
                 133.5, 139.5, 146, 151.5, 157.5, 163.5, 169.5, 175, 186, 199,
                 207, 214, 228, 244, 253, 267, 279, 291, 299.5, 314]
right_res3 = [0.12, 0.2, 0.06, 0.25, 0.09, 0.15, 0.3, 0.07, 0.18, 0.1,
              0.22, 0.05, 0.14, 0.28, 0.08, 0.16, 0.12, 0.25, 0.06, 0.2,
              0.1, 0.3, 0.15, 0.07, 0.22, 0.12, 0.18, 0.09, 0.2, 0.1,
              0.15, 0.25, 0.12, 0.08, 0.18, 0.1, 0.22, 0.14, 0.06, 0.12]

# ============================================================================
# STYLE
# ============================================================================
sns.set_style("ticks")
plt.rcParams['font.family'] = ['DejaVu Serif']
plt.rcParams['mathtext.fontset'] = 'dejavusans'
plt.rcParams['axes.edgecolor'] = 'black'
plt.rcParams['axes.labelcolor'] = 'black'
plt.rcParams['text.color'] = 'black'
plt.rcParams['xtick.color'] = 'black'
plt.rcParams['ytick.color'] = 'black'
plt.rcParams['xtick.major.size'] = 3.5
plt.rcParams['ytick.major.size'] = 3.5
plt.rcParams['ytick.minor.size'] = 2
plt.rcParams['axes.linewidth'] = 1.0

PT_KW = dict(s=30, color='gray', edgecolor='k', linewidth=0.8, zorder=3, legend=False)


def draw_points(ax, uv, amp, err=None):
    uv = np.asarray(uv, float)
    amp = np.asarray(amp, float)
    if err is not None:
        err = np.asarray(err, float)
        lo = np.maximum(amp - err, 1e-6)
        ax.vlines(uv, lo, amp + err, color='gray', lw=1.6, zorder=2)
    sns.scatterplot(x=uv, y=amp, ax=ax, **PT_KW)


def draw_sigma(ax, tracks_uv, tracks_amp):
    for u, a in zip(tracks_uv, tracks_amp):
        ax.plot(u, a, color='m', lw=3, dashes=(2.2, 0.8), zorder=2.5)


fig = plt.figure(figsize=(13.54, 5.34), dpi=100)
W = 0.4306
axLt = fig.add_axes([0.0598, 0.3633, W, 0.6273])
axLb = fig.add_axes([0.0598, 0.103, W, 0.2491], sharex=axLt)
axRt = fig.add_axes([0.5591, 0.3633, W, 0.6273])
axRb = fig.add_axes([0.5591, 0.103, W, 0.2491], sharex=axRt)

for ax in (axLt, axLb, axRt, axRb):
    ax.set_yscale('log')

# ---------------------------------------------------------------- left top
for u, a in [(left_uv_t2, left_amp_t2), (left_uv_t3, left_amp_t3), (left_uv_t4, left_amp_t4),
             (left_uv_t5, left_amp_t5), (left_uv_t6, left_amp_t6), (left_uv_t7, left_amp_t7),
             (left_uv_t8, left_amp_t8), (left_uv_t9, left_amp_t9)]:
    draw_points(axLt, u, a)
draw_points(axLt, left_uv_t1, left_amp_t1, left_err_t1)
draw_points(axLt, left_uv_far, left_amp_far, left_err_far)
draw_sigma(axLt, left_sig_uv, left_sig_amp)
axLt.plot(left_model_uv, left_major, color='b', lw=2, zorder=4)
axLt.plot(left_minor_uv, left_minor, color='b', lw=2, ls='--', zorder=4)
axLt.axhline(1.0, color='k', ls=':', lw=1, zorder=1)
axLt.axvline(91, color='c', ls='-.', lw=2, label='Short range', zorder=4)
axLt.set_xlim(0, 175)
axLt.set_ylim(1e-3, 3.0)
axLt.text(0.055, 0.93, r'$\lambda$=1.35 cm (Apr 3, 2017)', transform=axLt.transAxes,
          fontsize=15.5, va='center')
axLt.text(30, 0.09, 'Major axis', color='b', fontsize=13, va='center')
axLt.text(100, 0.33, 'Minor axis', color='b', fontsize=13, va='center')
axLt.text(30.5, 0.0105, r'$\sigma_{ref}$', color='m', fontsize=18, va='center')
axLt.set_ylabel('Normalized amplitude (Jy)', fontsize=15)
axLt.yaxis.set_label_coords(-0.108, 0.5)
axLt.legend(loc='upper right', fontsize=13, handlelength=2.2)
axLt.tick_params(labelbottom=False, labelsize=12.5)

# ---------------------------------------------------------------- left bottom
sns.scatterplot(x=left_res_uv2, y=left_res2, ax=axLb, **PT_KW)
sns.scatterplot(x=left_res_uv3, y=left_res3, ax=axLb, **PT_KW)
sns.scatterplot(x=left_res_uv, y=left_res, ax=axLb, **PT_KW)
axLb.axvline(91, color='c', ls='-.', lw=2, zorder=4)
axLb.set_ylim(3.2e-3, 3.8)
axLb.set_xticks([0, 20, 40, 60, 80, 100, 120, 140, 160])
axLb.set_xlabel(r'uv distance (M$\lambda$)', fontsize=16.5, labelpad=2)
axLb.set_ylabel(r'$(|V|-|V_{mod}|)/\sigma_{th}$', fontsize=13)
axLb.yaxis.set_label_coords(-0.105, 0.5)
axLb.tick_params(labelsize=12.5)

# ---------------------------------------------------------------- right top
draw_points(axRt, right_uv_a2, right_amp_a2)
draw_points(axRt, right_uv_b2, right_amp_b2)
draw_points(axRt, right_uv_b3, right_amp_b3)
draw_points(axRt, right_uv_a, right_amp_a, right_err_a)
draw_points(axRt, right_uv_b, right_amp_b, right_err_b)
draw_points(axRt, right_uv_c2, right_amp_c2, right_err_c2)
draw_points(axRt, right_uv_c, right_amp_c, right_err_c)
draw_sigma(axRt, right_sig_uv, right_sig_amp)
axRt.plot(right_model_uv, right_major, color='b', lw=2, zorder=4)
axRt.plot(right_model_uv, right_minor, color='b', lw=2, ls='--', zorder=4)
axRt.axhline(1.0, color='k', ls=':', lw=1, zorder=1)
axRt.axvline(176, color='c', ls='-.', lw=2, label='Short range', zorder=4)
axRt.set_xlim(0, 338)
axRt.set_ylim(1e-3, 3.0)
axRt.text(0.027, 0.93, r'$\lambda$=0.70 cm (Apr 4, 2017)', transform=axRt.transAxes,
          fontsize=15.5, va='center')
axRt.text(140.7, 0.115, 'Major axis', color='b', fontsize=13, va='center')
axRt.text(250, 0.8, 'Minor axis', color='b', fontsize=13, va='center')
axRt.text(70, 0.011, r'$\sigma_{ref}$', color='m', fontsize=18, va='center')
axRt.set_ylabel('Normalized amplitude (Jy)', fontsize=15)
axRt.yaxis.set_label_coords(-0.101, 0.5)
axRt.legend(loc='upper right', fontsize=13, handlelength=2.2)
axRt.tick_params(labelbottom=False, labelsize=12.5)

# ---------------------------------------------------------------- right bottom
sns.scatterplot(x=right_res_uv2, y=right_res2, ax=axRb, **PT_KW)
sns.scatterplot(x=right_res_uv3, y=right_res3, ax=axRb, **PT_KW)
sns.scatterplot(x=right_res_uv, y=right_res, ax=axRb, **PT_KW)
axRb.axvline(176, color='c', ls='-.', lw=2, zorder=4)
axRb.set_ylim(2.0e-4, 6.5)
axRb.set_xticks([0, 50, 100, 150, 200, 250, 300])
axRb.set_xlabel(r'uv distance (M$\lambda$)', fontsize=16.5, labelpad=2)
axRb.set_ylabel(r'$(|V|-|V_{mod}|)/\sigma_{th}$', fontsize=13)
axRb.yaxis.set_label_coords(-0.103, 0.5)
axRb.tick_params(labelsize=12.5)

fig.savefig('out.png', dpi=100)
